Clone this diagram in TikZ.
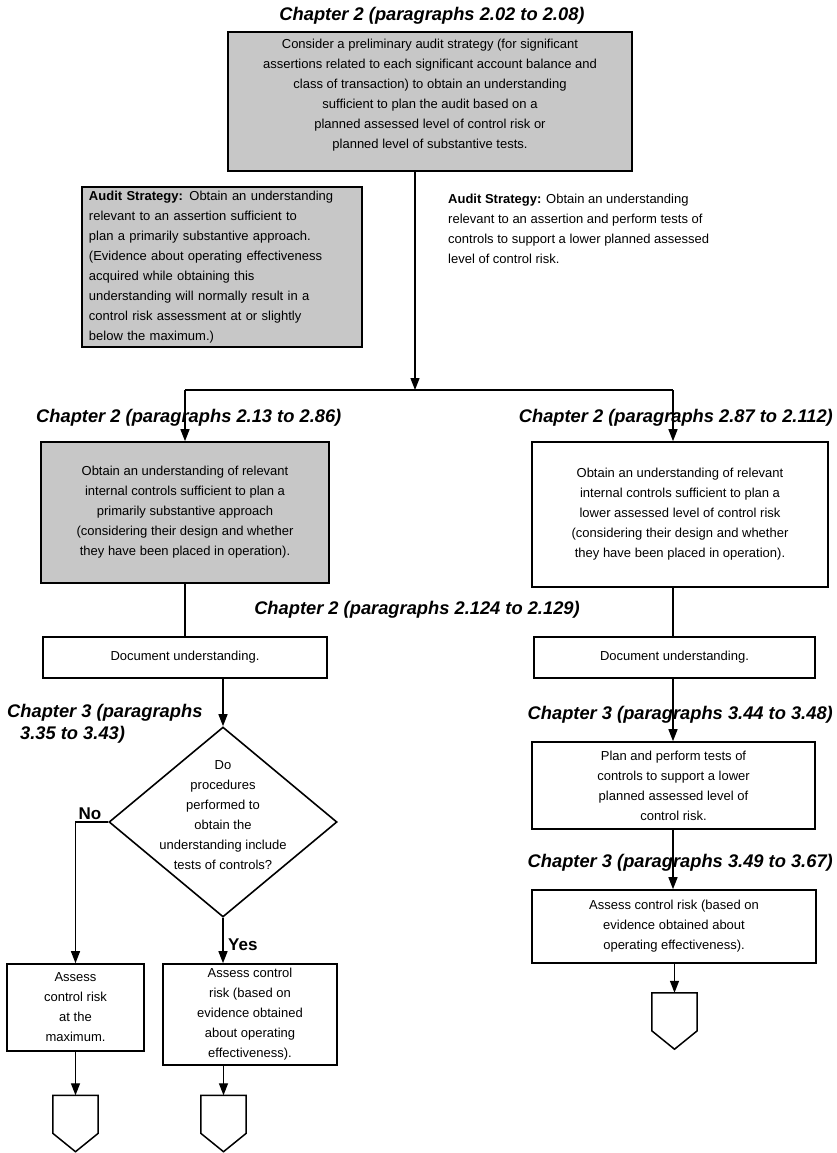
\documentclass[tikz,border=0pt]{standalone}
\usepackage{fontspec}
\setmainfont{Liberation Sans}
\usetikzlibrary{arrows.meta,shapes.geometric,calc}
\definecolor{shade}{gray}{0.78}
% off-page connector drawn around an empty node
\newcommand\offpagemark[1]{%
  \draw[line width=1.5bp] (#1.north west) -- (#1.north east) -- ([yshift=-38bp]#1.north east)
    -- (#1.south) -- ([yshift=-38bp]#1.north west) -- cycle;}
\begin{document}
\begin{tikzpicture}[x=1bp,y=-1bp,
  body/.style={font=\fontsize{13bp}{20bp}\selectfont, inner sep=0pt},
  head/.style={font=\fontsize{18.3bp}{22bp}\selectfont\bfseries\itshape, inner sep=0pt},
  yn/.style={font=\fontsize{17bp}{20bp}\selectfont\bfseries, inner sep=0pt},
  box/.style={draw, line width=1.6bp, body, align=center},
  shaded/.style={box, fill=shade},
  conn/.style={line width=1.3bp},
  arr/.style={conn, -{Triangle[length=12bp,width=9bp]}},
  offpg/.style={inner sep=0pt, minimum width=45bp, minimum height=56bp},
]
\useasboundingbox (0,0) rectangle (837,1153);

% ---- preliminary strategy ----
\node[head] (h0) at (432,16) {Chapter 2 (paragraphs 2.02 to 2.08)};
\node[shaded, minimum width=404bp, minimum height=139bp, text depth=15bp] (prelim) at (430,101.5)
  {Consider a preliminary audit strategy (for significant\\
   assertions related to each significant account balance and\\
   class of transaction) to obtain an understanding\\
   sufficient to plan the audit based on a\\
   planned assessed level of control risk or\\
   planned level of substantive tests.};

\node[shaded, align=left, text width=266bp, minimum width=280bp, minimum height=160bp] (stratL) at (222,267)
  {\textbf{Audit Strategy:} Obtain an understanding\\
   relevant to an assertion sufficient to\\
   plan a primarily substantive approach.\\
   (Evidence about operating effectiveness\\
   acquired while obtaining this\\
   understanding will normally result in a\\
   control risk assessment at or slightly\\
   below the maximum.)};

\node[body, align=left, anchor=west] (stratR) at (448,229)
  {\textbf{Audit Strategy:} Obtain an understanding\\
   relevant to an assertion and perform tests of\\
   controls to support a lower planned assessed\\
   level of control risk.};

% ---- split into the two approaches ----
\coordinate (split) at (415,390);
\coordinate (splitL) at (185,390);
\coordinate (splitR) at (673,390);

\node[head, anchor=west] (h1) at (36,418) {Chapter 2 (paragraphs 2.13 to 2.86)};
\node[head, anchor=east] (h2) at (833,418) {Chapter 2 (paragraphs 2.87 to 2.112)};

\node[shaded, minimum width=288bp, minimum height=141bp] (understL) at (185,512.5)
  {Obtain an understanding of relevant\\
   internal controls sufficient to plan a\\
   primarily substantive approach\\
   (considering their design and whether\\
   they have been placed in operation).};
\node[box, minimum width=296bp, minimum height=145bp] (understR) at (680,514.5)
  {Obtain an understanding of relevant\\
   internal controls sufficient to plan a\\
   lower assessed level of control risk\\
   (considering their design and whether\\
   they have been placed in operation).};

\draw[arr] (prelim.south -| split) -- (split);
\draw[conn] (splitL) -- (splitR);
\draw[arr] (splitL) -- (splitL |- understL.north);
\draw[arr] (splitR) -- (splitR |- understR.north);

% ---- documentation ----
\node[head] (h3) at (417,610) {Chapter 2 (paragraphs 2.124 to 2.129)};
\node[box, minimum width=284bp, minimum height=41bp] (docL) at (185,657.5) {Document understanding.};
\node[box, minimum width=281bp, minimum height=41bp] (docR) at (674.5,657.5) {Document understanding.};
\draw[conn] (understL.south -| docL.north) -- (docL.north);
\draw[conn] (understR.south -| splitR) -- (splitR |- docR.north);

% ---- left branch: decision ----
\node[head, anchor=north west, align=left] (h4) at (7,704)
  {Chapter 3 (paragraphs\\\hspace*{13bp}3.35 to 3.43)};
\node[draw, diamond, line width=1.6bp, minimum width=228bp, minimum height=190bp, inner sep=0pt] (dec) at (223,822) {};
\node[body, align=center] (dectext) at (223,815)
  {Do\\procedures\\performed to\\obtain the\\understanding include\\tests of controls?};
\draw[arr] (docL.south -| dec.north) -- (dec.north);

\node[box, minimum width=137bp, minimum height=87bp] (maxb) at (75.5,1007.5)
  {Assess\\control risk\\at the\\maximum.};
\node[box, minimum width=174bp, minimum height=101bp] (crb) at (250,1014.5)
  {Assess control\\risk (based on\\evidence obtained\\about operating\\effectiveness).};

\draw[arr] (dec.west) -| (maxb.north);
\node[yn, anchor=south] (no) at (90,820) {No};
\draw[arr] (dec.south) -- (dec.south |- crb.north);
\node[yn, anchor=west] (yes) at (228,945) {Yes};

\node[offpg] (opL) at (75.5,1123.5) {};
\node[offpg] (opC) at (223.5,1123.5) {};
\offpagemark{opL}
\offpagemark{opC}
\draw[arr] (maxb.south) -- (opL.north);
\draw[arr] (crb.south -| opC.north) -- (opC.north);

% ---- right branch ----
\node[head, anchor=east] (h5) at (833,715) {Chapter 3 (paragraphs 3.44 to 3.48)};
\node[box, minimum width=283bp, minimum height=87bp] (plan) at (673.5,785.5)
  {Plan and perform tests of\\controls to support a lower\\planned assessed level of\\control risk.};
\node[head, anchor=east] (h6) at (833,863) {Chapter 3 (paragraphs 3.49 to 3.67)};
\node[box, minimum width=284bp, minimum height=73bp] (assess) at (674,926.5)
  {Assess control risk (based on\\evidence obtained about\\operating effectiveness).};
\node[offpg] (opR) at (674.5,1021) {};
\offpagemark{opR}

\draw[arr] (docR.south -| splitR) -- (splitR |- plan.north);
\draw[arr] (plan.south -| splitR) -- (splitR |- assess.north);
\draw[arr] (assess.south -| opR.north) -- (opR.north);
\end{tikzpicture}
\end{document}
